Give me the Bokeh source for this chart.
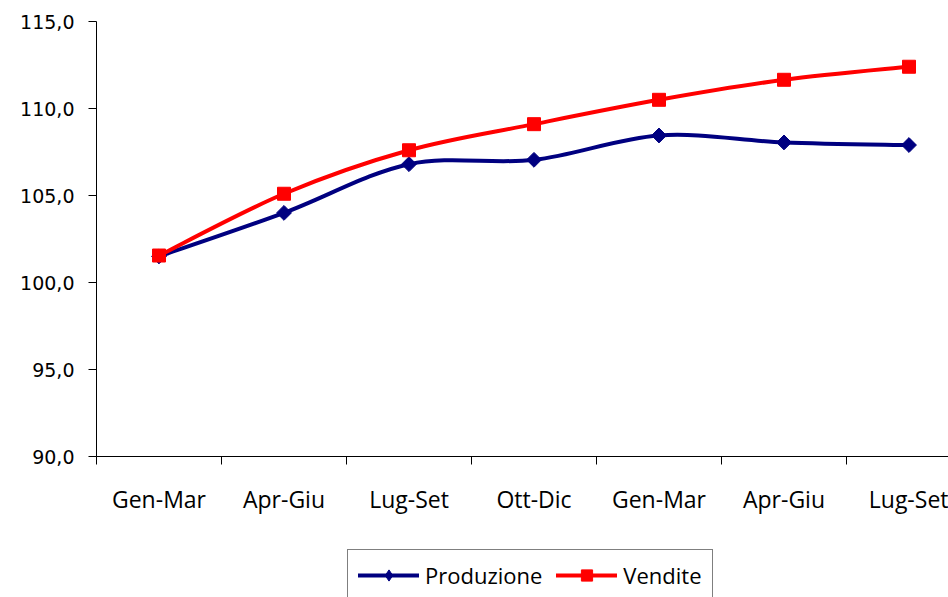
import numpy as np
from bokeh.plotting import figure
from bokeh.layouts import column
from bokeh.models import Range1d, FixedTicker, Legend, LegendItem, ColumnDataSource
from bokeh.embed import file_html
from bokeh.resources import INLINE

# ---- data ----
categories = ["Gen-Mar", "Apr-Giu", "Lug-Set", "Ott-Dic", "Gen-Mar", "Apr-Giu", "Lug-Set"]
produzione = [101.5, 104.0, 106.8, 107.05, 108.45, 108.05, 107.9]
vendite = [101.55, 105.1, 107.6, 109.1, 110.5, 111.65, 112.4]
y_ticks = [90, 95, 100, 105, 110, 115]

x_centers = [i + 0.5 for i in range(len(categories))]
x_bounds = list(range(len(categories) + 1))

BLUE = "#000080"
RED = "#FF0000"


def bezier_source(xs, ys):
    n = len(xs)
    d = dict(x0=[], y0=[], x1=[], y1=[], cx0=[], cy0=[], cx1=[], cy1=[])
    for i in range(n - 1):
        a = i - 1 if i > 0 else i
        b = i + 2 if i + 2 < n else i + 1
        d["x0"].append(xs[i]); d["y0"].append(ys[i])
        d["x1"].append(xs[i + 1]); d["y1"].append(ys[i + 1])
        d["cx0"].append(xs[i] + (xs[i + 1] - xs[a]) / 6)
        d["cy0"].append(ys[i] + (ys[i + 1] - ys[a]) / 6)
        d["cx1"].append(xs[i + 1] - (xs[b] - xs[i]) / 6)
        d["cy1"].append(ys[i + 1] - (ys[b] - ys[i]) / 6)
    return ColumnDataSource(d)


def add_series(fig, src, xs, ys, color, marker, size, angle):
    b = fig.bezier(x0="x0", y0="y0", x1="x1", y1="y1", cx0="cx0", cy0="cy0",
                   cx1="cx1", cy1="cy1", source=src, line_color=color, line_width=4,
                   line_join="round", line_cap="round")
    m = fig.scatter(xs, ys, marker=marker, angle=angle, size=size,
                    fill_color=color, line_color=color)
    return b, m


src_p = bezier_source(x_centers, produzione)
src_v = bezier_source(x_centers, vendite)

# ---- main chart ----
p = figure(width=948, height=545, output_backend="svg", toolbar_location=None,
           x_range=Range1d(0, 6.816), y_range=Range1d(90, 115),
           min_border_left=96, min_border_top=21, min_border_right=0,
           min_border_bottom=89)
p.background_fill_color = "white"
p.border_fill_color = "white"
p.outline_line_color = None
p.xgrid.visible = False
p.ygrid.visible = False

ya = p.yaxis[0]
ya.ticker = FixedTicker(ticks=y_ticks, minor_ticks=[])
ya.major_label_overrides = {t: f"{t},0" for t in y_ticks}
ya.major_label_text_font = "DejaVu Sans"
ya.major_label_text_font_size = "19px"
ya.major_label_text_color = "black"
ya.major_tick_out = 8
ya.major_tick_in = 0
ya.minor_tick_out = 0
ya.minor_tick_in = 0
ya.major_label_standoff = 14
ya.axis_line_color = "black"
ya.major_tick_line_color = "black"

xa = p.xaxis[0]
xa.ticker = FixedTicker(ticks=x_centers, minor_ticks=x_bounds)
xa.major_label_overrides = {c: lab for c, lab in zip(x_centers, categories)}
xa.major_label_text_font = "Open Sans"
xa.major_label_text_font_size = "23px"
xa.major_label_text_color = "black"
xa.major_tick_out = 0
xa.major_tick_in = 0
xa.minor_tick_out = 8
xa.minor_tick_in = 0
xa.minor_tick_line_color = "black"
xa.major_label_standoff = 18
xa.axis_line_color = "black"

add_series(p, src_p, x_centers, produzione, BLUE, "square", 10.5, np.pi / 4)
add_series(p, src_v, x_centers, vendite, RED, "square", 13, 0)

# ---- legend strip (separate figure, series outside its visible range) ----
lg = figure(width=948, height=52, output_backend="svg", toolbar_location=None,
            x_range=Range1d(0, 6.816), y_range=Range1d(0, 1),
            min_border=0, x_axis_type=None, y_axis_type=None)
lg.background_fill_color = "white"
lg.border_fill_color = "white"
lg.outline_line_color = None
lg.xgrid.visible = False
lg.ygrid.visible = False
bp, mp = add_series(lg, src_p, x_centers, produzione, BLUE, "diamond", 12, 0)
bv, mv = add_series(lg, src_v, x_centers, vendite, RED, "square", 12, 0)

legend = Legend(items=[LegendItem(label="Produzione", renderers=[bp, mp]),
                       LegendItem(label="Vendite", renderers=[bv, mv])],
                orientation="horizontal", location=(251, -4),
                label_text_font="Open Sans", label_text_font_size="22px",
                label_text_color="black", glyph_width=61, glyph_height=28,
                label_height=28, label_standoff=6, spacing=14, padding=10,
                margin=0, border_line_color="black", border_line_width=1,
                background_fill_color="white", background_fill_alpha=1.0)
lg.add_layout(legend, "center")

layout = column(p, lg, spacing=0)
open("out.html", "w").write(file_html(layout, INLINE))
